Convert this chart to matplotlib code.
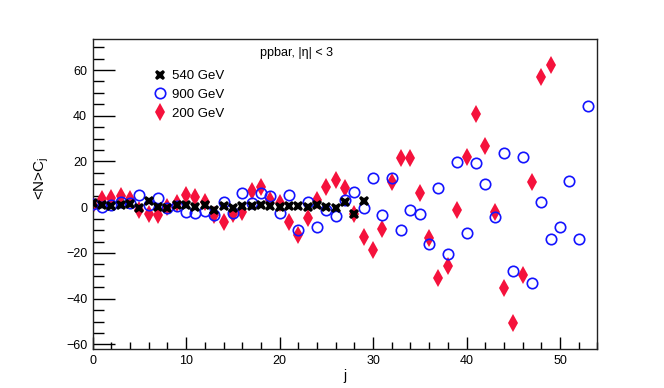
import matplotlib
matplotlib.use("Agg")
import matplotlib.pyplot as plt
from matplotlib.ticker import MultipleLocator

plt.rcParams['font.family'] = ['Liberation Sans', 'DejaVu Sans']

# ---- data ----
j_540 = list(range(0, 30))
c_540 = [2, 1, 0.5, 1, 1.5, -0.5, 2.8, 0, -0.5, 0.8, 0.8, 0, 1, -1, 0.5, -0.5,
         0.5, 0.5, 1, 0.5, 0, 0.5, 0.5, 0, 1, 0.2, -0.5, 2.4, -3, 2.7]

j_900 = list(range(0, 54))
c_900 = [1.5, 0, 1, 2.5, 2, 5.4, 1, 4, -0.5, 0.5, -2, -2.5, -1.5, -3.4, 2.5, -2.6,
         6.1, 1.7, 6.1, 4.7, -2.6, 5.4, -10, 2.5, -8.5, -1.2, -3.8, 3.2, 6.8, -0.5,
         12.9, -3.5, 12.9, -10, -1.2, -3, -16.2, 8.3, -20.4, 19.8, -11.1, 19.2, 10,
         -4.1, 23.9, -27.9, 22.1, -33, 2.2, -13.9, -8.5, 11.5, -13.9, 44.4]

j_200 = list(range(0, 50))
c_200 = [1, 3.5, 4, 5, 3.5, -1, -3, -3.5, 0, 2, 5.5, 4.5, 2.5, -3.4, -6.3, -2.9,
         -1.9, 6.9, 9, 3, 1.7, -6.3, -12, -4.8, 3, 9, 12, 8.4, -3, -13, -18.7,
         -9.4, 11.2, 21.4, 21.4, 6.1, -13.5, -31, -25.7, -1.2, 22.1, 40.8, 26.8,
         -1.9, -35.4, -50.7, -29.6, 11.2, 57.1, 62.2]

labels = ["540 GeV", "900 GeV", "200 GeV"]
title_text = "ppbar, |\u03b7| < 3"

# ---- figure ----
fig = plt.figure(figsize=(6.64, 3.88), dpi=100)
ax = fig.add_axes([0.1396, 0.1005, 0.76, 0.7998])

red = '#f5123c'
blue = '#1414ff'

ax.plot(j_200, c_200, linestyle='none', marker='d', markersize=9,
        color=red, markeredgewidth=0, label=labels[2], zorder=2)
ax.plot(j_900, c_900, linestyle='none', marker='o', markersize=7.5,
        markerfacecolor='none', markeredgecolor=blue, markeredgewidth=1.2,
        label=labels[1], zorder=3)
ax.plot(j_540, c_540, linestyle='none', marker='X', markersize=7.5,
        color='black', markeredgewidth=0, label=labels[0], zorder=4)

ax.set_xlim(0, 54)
ax.set_ylim(-62, 73.7)

ax.xaxis.set_major_locator(MultipleLocator(10))
ax.xaxis.set_minor_locator(MultipleLocator(2))
ax.yaxis.set_major_locator(MultipleLocator(20))
ax.yaxis.set_minor_locator(MultipleLocator(5))

ax.tick_params(axis='x', which='major', direction='in', length=9, width=1,
               labelsize=9, pad=4, top=False)
ax.tick_params(axis='x', which='minor', direction='in', length=5, width=1, top=False)
ax.tick_params(axis='y', which='major', direction='in', length=16, width=1,
               labelsize=9, pad=4, right=False)
ax.tick_params(axis='y', which='minor', direction='in', length=8, width=1, right=False)

for s in ax.spines.values():
    s.set_linewidth(1.0)
    s.set_color('#222222')

ax.set_xlabel('j', fontsize=10)
ax.xaxis.set_label_coords(0.5, -0.065)
ax.set_ylabel(r'<N>C$_\mathregular{j}$', fontsize=11)
ax.yaxis.set_label_coords(-0.083, 0.55)

h, l = ax.get_legend_handles_labels()
order = [2, 1, 0]
leg = ax.legend([h[i] for i in order], [l[i] for i in order], frameon=False,
                loc='upper left', bbox_to_anchor=(152 / 664, 1 - 70 / 388),
                bbox_transform=fig.transFigure, fontsize=9.5, handletextpad=0.3,
                labelspacing=0.5, handlelength=1.2, borderaxespad=0, borderpad=0)

fig.text(260 / 664, 1 - 53 / 388, title_text, fontsize=9, ha='left', va='center')

fig.savefig('out.png', dpi=100)
